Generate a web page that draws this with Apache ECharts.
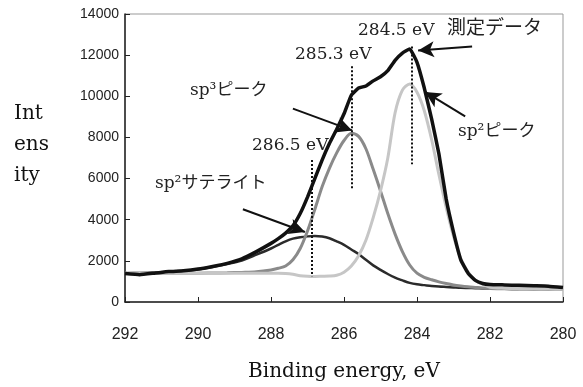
<!DOCTYPE html>
<html>
<head>
<meta charset="utf-8">
<script src="https://cdn.jsdelivr.net/npm/echarts@6/dist/echarts.min.js"></script>
<style>
  html, body { margin: 0; padding: 0; background: #fff; }
  #XpsChart { width: 583px; height: 387px; }
</style>
</head>
<body>
<div id="XpsChart"></div>
<script>
// C1s XPS スペクトル（測定データ＋ピーク分離）

// binding energy (eV), shared by all curves
var energy = [292, 291.6, 291.2, 290.8, 290.4, 290, 289.6, 289.2, 288.8, 288.4,
  288.0, 287.8, 287.6, 287.4, 287.2, 287.0, 286.8, 286.6, 286.4, 286.2,
  286.0, 285.8, 285.6, 285.4, 285.2, 285.0, 284.8, 284.6, 284.4, 284.2,
  284.0, 283.8, 283.6, 283.4, 283.2, 283.0, 282.8, 282.6, 282.4, 282.2,
  282.0, 281.6, 281.2, 280.8, 280.4, 280.0];

// 測定データ
var measured = [1380, 1330, 1400, 1480, 1520, 1600, 1730, 1880, 2100, 2450,
  2850, 3080, 3350, 3700, 4300, 5100, 6000, 6900, 7700, 8400,
  9150, 10050, 10400, 10500, 10750, 10950, 11250, 11750, 12100, 12300,
  11650, 10400, 8900, 7200, 5000, 3400, 2050, 1400, 1050, 900,
  850, 830, 810, 790, 770, 700];

// sp2 ピーク
var sp2Peak = [1400, 1400, 1400, 1400, 1400, 1400, 1400, 1400, 1400, 1400,
  1400, 1400, 1390, 1350, 1280, 1250, 1240, 1250, 1260, 1300,
  1450, 1750, 2250, 3000, 4100, 5400, 7000, 9200, 10300, 10600,
  10200, 9300, 7900, 6200, 4600, 3200, 2100, 1450, 1050, 850,
  720, 670, 650, 640, 630, 620];

// sp3 ピーク
var sp3Peak = [1400, 1400, 1400, 1400, 1400, 1400, 1410, 1420, 1440, 1470,
  1560, 1640, 1750, 2050, 2600, 3450, 4500, 5600, 6500, 7250,
  7850, 8200, 8050, 7450, 6450, 5400, 4300, 3300, 2450, 1800,
  1400, 1200, 1080, 980, 900, 830, 780, 740, 710, 680,
  660, 640, 630, 625, 620, 620];

// sp2 サテライト
var sp2Satellite = [1400, 1410, 1430, 1470, 1520, 1580, 1700, 1850, 2020, 2300,
  2600, 2780, 2950, 3080, 3150, 3190, 3210, 3180, 3100, 2950,
  2780, 2550, 2330, 2050, 1780, 1560, 1360, 1180, 1050, 930,
  860, 820, 780, 750, 730, 710, 690, 680, 670, 660,
  650, 640, 635, 630, 625, 620];

var xTicks = [292, 290, 288, 286, 284, 282, 280];
var yTicks = [0, 2000, 4000, 6000, 8000, 10000, 12000, 14000];

// dotted guides: [eV, top, bottom]
var guideLines = [
  [284.15, 12420, 6700],
  [285.8, 11460, 5520],
  [286.88, 6900, 1250]
];

// arrows: [fromEV, fromValue, toEV, toValue]
var arrows = [
  [282.49, 12420, 283.97, 12230],
  [282.68, 9020, 283.78, 10210],
  [287.4, 9400, 285.78, 8340],
  [288.77, 4510, 287.07, 3400]
];

function pairs(values) {
  var out = [];
  for (var i = 0; i < energy.length; i++) {
    out.push([energy[i], values[i]]);
  }
  return out;
}

var markData = [];
guideLines.forEach(function (g) {
  markData.push([
    { coord: [g[0], g[1]], symbol: 'none', lineStyle: { type: [2, 2], width: 2, color: '#111' } },
    { coord: [g[0], g[2]], symbol: 'none' }
  ]);
});
arrows.forEach(function (a) {
  markData.push([
    { coord: [a[0], a[1]], symbol: 'none', lineStyle: { type: 'solid', width: 2, color: '#111' } },
    { coord: [a[2], a[3]], symbol: 'arrow', symbolSize: [12, 16] }
  ]);
});

var serif = "'DejaVu Serif', 'Noto Sans CJK JP', serif";

function note(text, left, top, size) {
  return {
    type: 'text',
    left: left,
    top: top,
    style: {
      text: text,
      font: (size || 17) + 'px ' + serif,
      fill: '#222'
    }
  };
}

var myChart = echarts.init(document.getElementById('XpsChart'));

var option = {
  animation: false,
  backgroundColor: '#fff',
  grid: {
    left: 125,
    right: 20,
    top: 14,
    bottom: 81,
    show: true,
    borderColor: '#999',
    borderWidth: 1
  },
  xAxis: {
    type: 'value',
    inverse: true,
    min: 280,
    max: 292,
    interval: 2,
    name: 'Binding energy, eV',
    nameLocation: 'middle',
    nameGap: 60,
    nameTextStyle: { fontFamily: 'DejaVu Serif', fontSize: 20, color: '#111' },
    axisLine: { lineStyle: { color: '#222', width: 1.5 } },
    axisTick: { inside: true, length: 5, lineStyle: { color: '#222' } },
    axisLabel: {
      margin: 25,
      color: '#222',
      fontFamily: 'Liberation Sans',
      fontSize: 16,
      customValues: xTicks
    },
    splitLine: { show: false }
  },
  yAxis: {
    type: 'value',
    min: 0,
    max: 14000,
    interval: 2000,
    axisLine: { show: true, lineStyle: { color: '#222', width: 1.5 } },
    axisTick: { show: true, inside: true, length: 5, lineStyle: { color: '#222' } },
    axisLabel: {
      margin: 6,
      color: '#222',
      fontFamily: 'Liberation Sans',
      fontSize: 14,
      customValues: yTicks,
      formatter: function (v) { return String(v); }
    },
    splitLine: { show: false }
  },
  graphic: [
    {
      type: 'text',
      left: 14,
      top: 98,
      style: {
        text: 'Int\nens\nity',
        font: '20px ' + serif,
        fill: '#111',
        lineHeight: 31
      }
    },
    note('284.5 eV', 358, 22),
    note('測定データ', 447, 20, 19),
    note('285.3 eV', 295, 46),
    note('sp³ピーク', 190, 82, 17),
    note('286.5 eV', 252, 137),
    note('sp²サテライト', 155, 175, 17),
    note('sp²ピーク', 458, 123, 17)
  ],
  series: [
    {
      name: 'sp2サテライト',
      type: 'line',
      data: pairs(sp2Satellite),
      smooth: 0.3,
      showSymbol: false,
      lineStyle: { color: '#2b2b2b', width: 2.5 }
    },
    {
      name: 'sp3ピーク',
      type: 'line',
      data: pairs(sp3Peak),
      smooth: 0.3,
      showSymbol: false,
      lineStyle: { color: '#8a8a8a', width: 3 }
    },
    {
      name: 'sp2ピーク',
      type: 'line',
      data: pairs(sp2Peak),
      smooth: 0.3,
      showSymbol: false,
      lineStyle: { color: '#c6c6c6', width: 3 }
    },
    {
      name: '測定データ',
      type: 'line',
      data: pairs(measured),
      smooth: 0.12,
      showSymbol: false,
      lineStyle: { color: '#111', width: 3.5 },
      markLine: {
        silent: true,
        animation: false,
        label: { show: false },
        emphasis: { disabled: true },
        data: markData
      }
    }
  ]
};
myChart.setOption(option);
window.addEventListener('resize', myChart.resize);
</script>
</body>
</html>
